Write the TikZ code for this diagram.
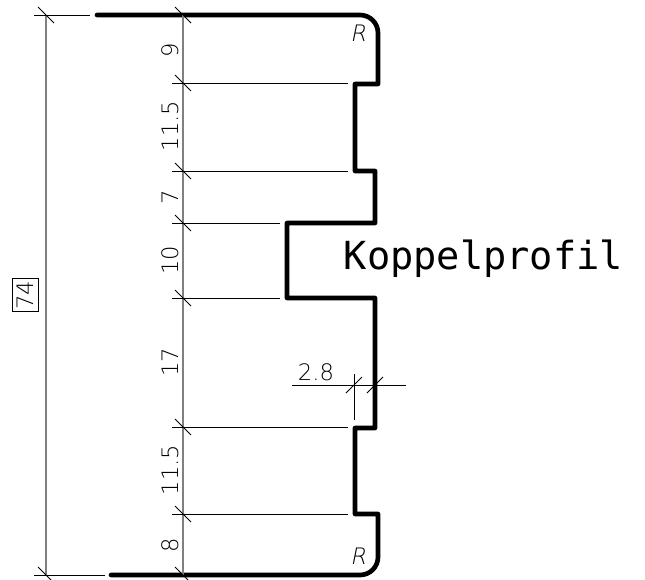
\documentclass[tikz,border=0pt]{standalone}
\usepackage{fontspec}
\setmainfont{DejaVu Sans Mono}
\newfontfamily\dimfont{DejaVu Sans ExtraLight}
\newfontfamily\radfont[FakeSlant=0.2]{DejaVu Sans ExtraLight}
\tikzset{
	profile/.style={line width=3.5pt, line join=round, line cap=round},
	dimline/.style={line width=1.1pt, black!50},
	extline/.style={line width=0.6pt, black},
	tick/.style={line width=0.6pt, black},
	dimtext/.style={font=\fontsize{17}{18}\selectfont\dimfont, black, inner sep=0pt},
}
\begin{document}
\begin{tikzpicture}[x=0.75pt, y=-0.75pt]
	\useasboundingbox (0,0) rectangle (645,579);

	% Profile
	\draw[profile] (97,15) -- (360,15) arc[start angle=-90, end angle=0, radius=18]
		-- (378,84) -- (355,84) -- (355,171) -- (375,171) -- (375,223)
		-- (287,223) -- (287,298) -- (375,298) -- (375,428) -- (355,428)
		-- (355,514) -- (378,514) -- (378,557)
		arc[start angle=0, end angle=90, radius=18] -- (111,575);

	% Dimension lines
	\coordinate (totaltop) at (46,15);
	\coordinate (totalbot) at (46,575);
	\coordinate (chaintop) at (183,15);
	\coordinate (chainbot) at (183,575);
	\draw[dimline] (totaltop) -- (totalbot);
	\draw[dimline] (chaintop) -- (chainbot);

	% Extension lines
	\foreach \y/\xend in {83/348, 171/348, 223/280, 298/280, 427/348, 514/348} {
		\coordinate (extstart) at (172,\y);
		\coordinate (extend) at (\xend,\y);
		\draw[extline] (extstart) -- (extend);
	}
	\draw[extline] (34,15) -- (90,15);
	\draw[extline] (34,575) -- (105,575);

	% Ticks
	\foreach \x/\y in {46/15, 46/575, 183/15, 183/83, 183/171, 183/223, 183/298, 183/427, 183/514, 183/575} {
		\draw[tick] (\x-8,\y-8) -- (\x+8,\y+8);
	}

	% Labels
	\foreach \y/\name in {50/9, 126/11.5, 197/7, 260/10, 362/17, 470/11.5, 545/8} {
		\node[dimtext, rotate=90] (label\y) at (170,\y) {\name};
	}
	\node[dimtext, rotate=90, draw=black, line width=0.6pt, minimum width=25pt, minimum height=20pt] (total) at (25.5,295) {74};

	% Wall thickness
	\draw[extline] (292,385) -- (406,385);
	\draw[extline] (354,374) -- (354,420);
	\foreach \x in {354, 375} {
		\draw[tick] (\x-8,385+8) -- (\x+8,385-8);
	}
	\node[dimtext, anchor=base] (wall) at (316,380) {2.8};

	% Text
	\node[inner sep=0pt, font=\fontsize{17}{18}\selectfont\radfont] (radtop) at (358,33) {R};
	\node[inner sep=0pt, font=\fontsize{17}{18}\selectfont\radfont] (radbot) at (358,556) {R};
	\node[inner sep=0pt, anchor=base west, font=\fontsize{29}{32}\selectfont] (title) at (343.5,269) {Koppelprofil};
\end{tikzpicture}
\end{document}
